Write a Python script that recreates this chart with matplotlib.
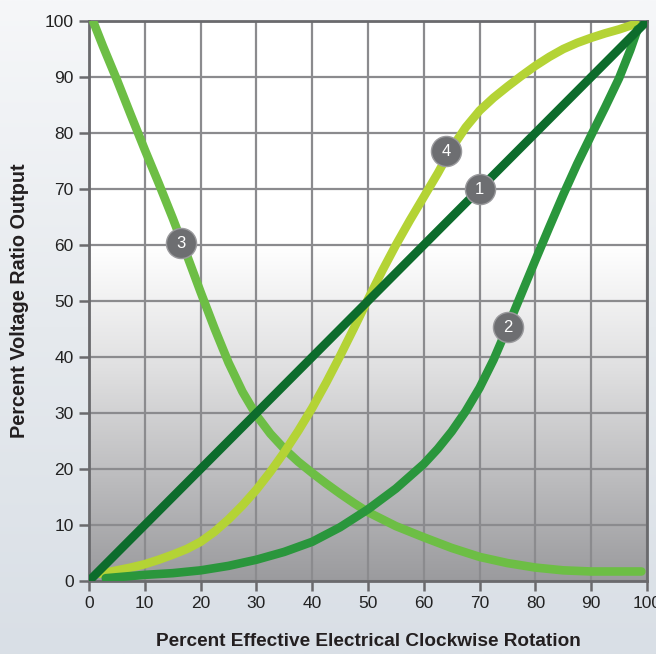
import numpy as np
import matplotlib
matplotlib.use("Agg")
import matplotlib.pyplot as plt
from matplotlib.colors import LinearSegmentedColormap

plt.rcParams['font.family'] = ['Liberation Sans', 'DejaVu Sans']

# curve 1: linear
x1 = [0, 100]
y1 = [0, 100]

# curve 2: slow start, steep end
x2 = [3, 10, 15, 20, 25, 30, 35, 40, 45, 50, 55, 60, 62.5, 65, 67.5, 70, 72.5, 75, 77.5,
      80, 82.5, 85, 87.5, 90, 92.5, 95, 97, 98.3]
y2 = [0.5, 1.1, 1.4, 1.9, 2.7, 3.8, 5.2, 7.0, 9.6, 12.8, 16.5, 20.9, 23.6, 26.7, 30.3, 34.5, 39.5, 45.3, 51.3,
      57.3, 63.2, 69, 74.5, 79.6, 84.6, 89.8, 94.8, 98.5]

# curve 3: decreasing
x3 = [0.8, 2.5, 5, 7.5, 10, 12.5, 15, 17.5, 20, 22.5, 25, 27.5, 30, 32.5, 35, 37.5, 40, 42.5,
      45, 47.5, 50, 55, 60, 65, 70, 75, 80, 85, 90, 95, 99]
y3 = [99.8, 95.5, 89.5, 83.2, 77, 71, 64.8, 58.3, 51.6, 45.1, 39.0, 33.8, 29.6, 26.3, 23.6, 21.3, 19.3, 17.4,
      15.6, 13.9, 12.3, 9.8, 7.8, 5.9, 4.3, 3.2, 2.4, 1.9, 1.7, 1.7, 1.7]

# curve 4: S shape
x4 = [2, 5, 7.5, 10, 12.5, 15, 17.5, 20, 22.5, 25, 27.5, 30, 32.5, 35, 37.5, 40, 42.5, 45, 47.5,
      50, 52.5, 55, 57.5, 60, 62.5, 65, 67.5, 70, 72.5, 75, 77.5, 80, 82.5, 85, 87.5, 90, 92.5, 95, 98]
y4 = [1.3, 1.9, 2.4, 3, 3.8, 4.7, 5.7, 7, 8.8, 11, 13.5, 16.3, 19.5, 23, 26.8, 30.9, 35.4, 40.2, 45.2,
      50.3, 55.3, 60, 64.4, 68.6, 72.8, 77.3, 81, 84, 86.3, 88.3, 90.2, 92, 93.6, 95, 96.1, 97, 97.8, 98.5, 99.5]

# number badges
badges = {"1": (70, 70), "2": (75, 45.3), "3": (16.5, 60.3), "4": (64, 76.7)}

fig = plt.figure(figsize=(6.56, 6.54), dpi=100)

# page background gradient
bg = fig.add_axes([0, 0, 1, 1], zorder=-10)
bg_cmap = LinearSegmentedColormap.from_list("bg", ["#f6f7f9", "#e6eaee", "#d9dfe6"])
bg.imshow(np.linspace(0, 1, 256).reshape(-1, 1), aspect="auto", cmap=bg_cmap,
          extent=[0, 1, 0, 1], origin="upper")
bg.axis("off")

ax = fig.add_axes([89 / 656, 1 - 581 / 654, 558 / 656, 560 / 654])

# plot area gradient: white on top, gray at the bottom
pa_cmap = LinearSegmentedColormap.from_list(
    "pa", [(0, "#ffffff"), (0.4, "#ffffff"), (0.62, "#e0e0e1"), (1, "#9b9b9e")])
ax.imshow(np.linspace(0, 1, 256).reshape(-1, 1), aspect="auto", cmap=pa_cmap,
          extent=[0, 100, 0, 100], origin="upper", zorder=0)

ax.set_xlim(0, 100)
ax.set_ylim(0, 100)
ax.set_xticks(range(0, 101, 10))
ax.set_yticks(range(0, 101, 10))
ax.grid(True, color="#8b8b8e", linewidth=1.6, zorder=1)

lw = 6.2
kw = dict(lw=lw, solid_capstyle="round", solid_joinstyle="round")
ax.plot(x3, y3, color="#6dbe45", zorder=3, **kw)
ax.plot(x4, y4, color="#b4d335", zorder=4, **kw)
ax.plot(x2, y2, color="#2a963c", zorder=5, **kw)
ax.plot(x1, y1, color="#0d6c2c", zorder=6, **kw)

for lab, (bx, by) in badges.items():
    ax.scatter([bx], [by], s=470, color="#6d6e71", edgecolor="#9a9a9d",
               linewidth=1, zorder=8, clip_on=False)
    ax.text(bx, by, lab, color="white", fontsize=12, ha="center", va="center",
            zorder=9)

for side in ["left", "bottom", "top", "right"]:
    ax.spines[side].set_color("#6a6a6d")
    ax.spines[side].set_linewidth(2)
ax.tick_params(axis="both", colors="#6a6a6d", length=7, width=1.8,
               labelcolor="#222222", labelsize=12.5, pad=4)

fig.text(368 / 656, 1 - 641 / 654, "Percent Effective Electrical Clockwise Rotation",
         fontsize=13.7, fontweight="bold", color="#231f20", ha="center", va="center")
fig.text(20 / 656, 1 - 301 / 654, "Percent Voltage Ratio Output", rotation=90,
         fontsize=14.3, fontweight="bold", color="#231f20", ha="center", va="center")

fig.savefig("out.png", dpi=100)
